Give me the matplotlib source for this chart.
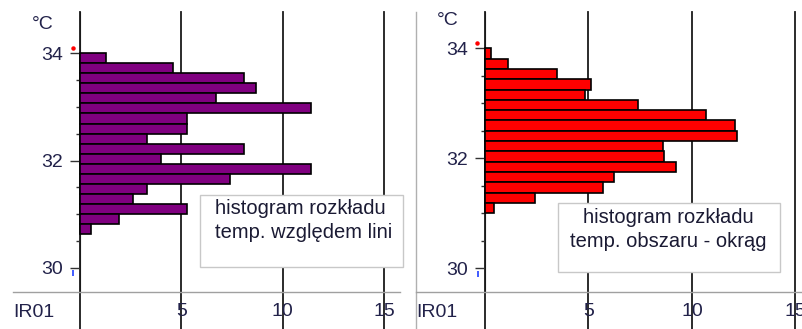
import matplotlib.pyplot as plt
import numpy as np
from matplotlib.patches import Rectangle
from matplotlib.ticker import FixedLocator

plt.rcParams['font.family'] = ['Liberation Sans', 'DejaVu Sans']

# histogram bins (degC), counted downward from the top edge
bin_top = 34.0
bin_width = 0.1875

# counts per bin, top to bottom
counts_line = [1.3, 4.6, 8.1, 8.7, 6.7, 11.4, 5.3, 5.3, 3.3, 8.1, 4.0,
               11.4, 7.4, 3.3, 2.6, 5.3, 1.9, 0.55]
counts_circle = [0.3, 1.1, 3.5, 5.1, 4.85, 7.4, 10.7, 12.1, 12.2, 8.6,
                 8.65, 9.25, 6.25, 5.7, 2.4, 0.45]

x_ticks = [5, 10, 15]
y_ticks = [30, 32, 34]
y_minor = [30.5, 31, 31.5, 32.5, 33, 33.5]
caption_line = ['histogram rozkładu', 'temp. względem lini']
caption_circle = ['histogram rozkładu', 'temp. obszaru - okrąg']

W, H = 803, 329
txt_col = '#22224a'


def draw_panel(ax, counts, color, xlim, ylim, caption, box, text_pos, align):
    ax.set_xlim(*xlim)
    ax.set_ylim(*ylim)
    ax.set_facecolor('white')

    n = len(counts)
    centers = bin_top - bin_width * (np.arange(n) + 0.5)
    ax.barh(centers, counts, height=bin_width, left=0, color=color,
            edgecolor='black', linewidth=1.2, zorder=3)

    for xv in [0] + x_ticks:
        ax.axvline(xv, ymin=-0.14, ymax=1, color='#1a1a1a', lw=1.3,
                   clip_on=False, zorder=1)

    for s in ['top', 'right']:
        ax.spines[s].set_visible(False)
    ax.spines['left'].set_position(('data', 0))
    ax.spines['left'].set_color('#1a1a1a')
    ax.spines['bottom'].set_color('#a0a0a0')
    ax.spines['bottom'].set_linewidth(1.0)

    ax.set_yticks(y_ticks)
    ax.yaxis.set_minor_locator(FixedLocator(y_minor))
    ax.tick_params(axis='y', which='major', length=7, width=1,
                   color='#333333', labelsize=14, labelcolor=txt_col, pad=5)
    ax.tick_params(axis='y', which='minor', length=3, width=1,
                   color='#333333')
    ax.set_xticks(x_ticks)
    ax.tick_params(axis='x', length=0, labelsize=14, labelcolor=txt_col,
                   pad=8)

    ax.text(0.0, -0.076, 'IR01', transform=ax.transAxes, fontsize=14,
            color=txt_col, ha='left', va='center')

    # caption box
    x0, y0, x1, y1 = box
    ax.add_patch(Rectangle((x0, y0), x1 - x0, y1 - y0,
                           transform=ax.transAxes, facecolor='white',
                           edgecolor='#c8c8c8', lw=1.0, zorder=4,
                           clip_on=False))
    tx, ty1, ty2 = text_pos
    ax.text(tx, ty1, caption[0], transform=ax.transAxes, fontsize=14.5,
            color='#1a1a33', ha=align, va='center', zorder=5)
    ax.text(tx, ty2, caption[1], transform=ax.transAxes, fontsize=14.5,
            color='#1a1a33', ha=align, va='center', zorder=5)

    # range markers on the temperature axis
    ax.plot([-0.37], [34.09], marker='o', ms=2.2, color='red',
            clip_on=False, zorder=6)
    ax.plot([-0.35], [29.9], marker='|', ms=5, mew=1.2, color='#2040ff',
            clip_on=False, zorder=6)


fig = plt.figure(figsize=(W / 100, H / 100), dpi=100)

ax_top, ax_bot = 12, 291.7
ah = (ax_bot - ax_top) / H

ax1 = fig.add_axes([13 / W, 1 - ax_bot / H, 387 / W, ah])
draw_panel(ax1, counts_line, '#800080', (-3.31, 15.79), (29.559, 34.763),
           caption_line, (0.483, 0.088, 1.008, 0.346),
           (0.522, 0.299, 0.213), 'left')
ax1.text(0.0775, 0.957, '°C', transform=ax1.transAxes, fontsize=14,
         color=txt_col, ha='center', va='center')

ax2 = fig.add_axes([416 / W, 1 - ax_bot / H, 387 / W, ah])
draw_panel(ax2, counts_circle, '#ff0000', (-3.335, 15.37), (29.575, 34.66),
           caption_circle, (0.367, 0.0704, 0.9406, 0.317),
           (0.651, 0.2635, 0.178), 'center')
ax2.text(0.0814, 0.971, '°C', transform=ax2.transAxes, fontsize=14,
         color=txt_col, ha='center', va='center')
# grey frame line on the left of the second panel
ax2.plot([0, 0], [-0.14, 1], transform=ax2.transAxes, color='#b0b0b0',
         lw=1.0, clip_on=False, zorder=1)

fig.savefig('out.png', dpi=100)
